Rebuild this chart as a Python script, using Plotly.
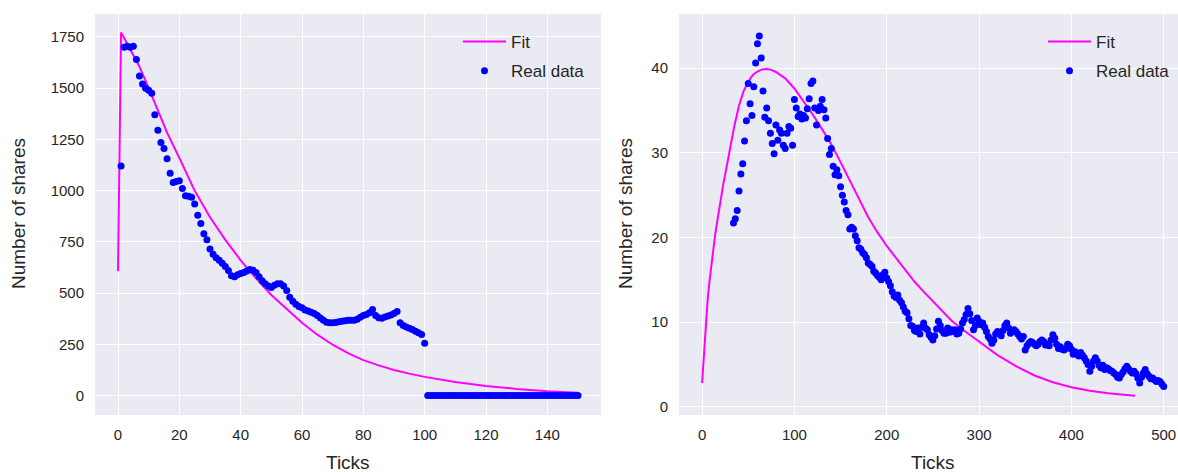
import plotly.graph_objects as go

W, H = 1178, 472

# ---------------- Left panel data ----------------
left_ticks = list(range(1, 151))
left_shares = [
    1120, 1700, 1705, 1700, 1705, 1640, 1560, 1520, 1500, 1490,
    1475, 1370, 1295, 1235, 1205, 1155, 1085, 1040, 1045, 1048,
    1010, 975, 972, 968, 935, 880, 840, 790, 760, 715,
    690, 672, 660, 645, 630, 610, 585, 580, 590, 595,
    600, 608, 615, 612, 600, 580, 560, 545, 535, 527,
    538, 545, 545, 535, 512, 480, 460, 445, 435, 428,
    418, 412, 406, 400, 390, 378, 368, 358, 355, 355,
    356, 360, 362, 365, 367, 367, 367, 372, 382, 390,
    396, 404, 420, 390, 380, 377, 383, 388, 393, 400,
    410, 355, 342, 335, 328, 322, 314, 306, 298, 255,
    0, 0, 0, 0, 0, 0, 0, 0, 0, 0,
    0, 0, 0, 0, 0, 0, 0, 0, 0, 0,
    0, 0, 0, 0, 0, 0, 0, 0, 0, 0,
    0, 0, 0, 0, 0, 0, 0, 0, 0, 0,
    0, 0, 0, 0, 0, 0, 0, 0, 0, 0,
]
left_fit_ticks = [0, 1, 2, 3, 5, 7, 10, 13, 16, 20, 25, 30, 35, 40, 45, 50, 55,
                  60, 65, 70, 75, 80, 85, 90, 95, 100, 110, 120, 130, 140, 150]
left_fit = [607, 1772, 1745, 1718, 1662, 1605, 1500, 1388, 1283, 1160, 1000, 870,
            760, 660, 572, 491, 422, 355, 297, 248, 207, 173, 147, 125, 107, 91,
            66, 47, 32, 21, 14]

# ---------------- Right panel data ----------------
right_ticks = list(range(34, 501, 2))
right_shares = [
    21.7, 22.2, 23.2, 25.5, 27.5, 28.7, 31.4, 33.8, 38.2, 35.8,
    34.4, 37.8, 40.6, 42.9, 43.8, 41.2, 37.3, 34.2, 35.3, 33.8,
    32.3, 31.1, 29.9, 33.3, 31.5, 32.7, 32.3, 30.9, 30.5, 32.3,
    33.1, 32.9, 30.9, 36.3, 35.3, 34.3, 34.6, 34.0, 34.4, 34.1,
    35.2, 36.4, 38.2, 38.5, 35.3, 33.3, 35.0, 35.5, 36.3, 35.1,
    34.1, 31.7, 29.8, 30.5, 28.4, 27.4, 28.0, 27.3, 26.0, 25.0,
    24.2, 23.2, 22.7, 21.0, 21.2, 21.0, 20.2, 19.6, 18.8, 18.6,
    18.2, 18.0, 17.6, 17.0, 16.8, 16.6, 16.0, 15.8, 15.5, 15.3,
    15.0, 15.6, 15.9, 15.2, 14.8, 14.3, 13.6, 13.1, 12.9, 13.2,
    12.6, 12.3, 11.8, 11.3, 11.1, 10.4, 9.6, 9.5, 9.0, 8.9,
    9.3, 8.6, 9.4, 9.9, 9.3, 9.1, 8.5, 8.2, 7.9, 8.4,
    9.2, 10.1, 9.6, 9.0, 8.7, 8.7, 9.3, 8.8, 9.1, 8.9,
    9.1, 8.6, 8.7, 9.2, 9.9, 10.3, 10.9, 11.6, 11.0, 10.2,
    9.1, 9.6, 10.5, 10.1, 9.7, 9.9, 9.4, 8.9, 8.3, 8.0,
    7.5, 7.9, 8.6, 8.9, 8.6, 8.4, 9.0, 9.6, 9.9, 9.3,
    8.7, 8.9, 9.1, 8.9, 8.6, 8.3, 8.0, 8.3, 6.7, 7.2,
    7.5, 7.7, 7.6, 7.4, 7.2, 7.4, 7.7, 7.9, 7.7, 7.3,
    7.4, 7.2, 7.9, 8.5, 8.1, 7.4, 6.9, 7.1, 6.8, 6.7,
    6.9, 7.4, 7.2, 6.8, 6.2, 6.5, 6.2, 6.0, 6.4, 6.1,
    5.8, 5.4, 5.0, 4.2, 4.8, 5.4, 5.8, 5.4, 4.9, 4.6,
    4.9, 4.4, 4.6, 4.5, 4.3, 4.2, 4.0, 3.8, 3.5, 3.4,
    3.8, 4.1, 4.5, 4.8, 4.5, 4.2, 4.0, 4.2, 3.9, 3.4,
    2.8, 3.5, 4.0, 4.4, 3.9, 3.6, 3.3, 3.4, 3.2, 3.0,
    3.1, 3.0, 2.7, 2.4,
]
right_fit_ticks = [0, 2, 4, 6, 8, 10, 12, 14, 17, 20, 23, 26, 30, 35, 40, 45, 50,
                   55, 60, 65, 70, 75, 80, 90, 100, 110, 120, 130, 140, 150, 160,
                   170, 180, 190, 200, 210, 220, 230, 240, 250, 260, 270, 280, 290,
                   300, 310, 320, 340, 360, 380, 400, 420, 440, 460, 469]
right_fit = [2.8, 6.5, 9.9, 12.6, 14.8, 16.8, 18.6, 20.2, 22.3, 24.4, 26.3, 28.0,
             30.5, 33.2, 35.6, 37.3, 38.4, 39.2, 39.6, 39.85, 39.9, 39.8, 39.55,
             38.8, 37.6, 36.1, 34.5, 32.8, 31.0, 28.9, 26.7, 24.5, 22.4, 20.6,
             19.0, 17.6, 16.2, 14.8, 13.6, 12.5, 11.3, 10.2, 9.3, 8.5, 7.6, 6.8,
             6.1, 4.8, 3.7, 2.9, 2.3, 1.9, 1.6, 1.4, 1.3]

assert len(left_ticks) == len(left_shares)
assert len(right_ticks) == len(right_shares)
assert len(left_fit_ticks) == len(left_fit)
assert len(right_fit_ticks) == len(right_fit)

left_xtick_vals = [0, 20, 40, 60, 80, 100, 120, 140]
left_ytick_vals = [0, 250, 500, 750, 1000, 1250, 1500, 1750]
right_xtick_vals = [0, 100, 200, 300, 400, 500]
right_ytick_vals = [0, 10, 20, 30, 40]

FONT = "Liberation Sans, Arial, sans-serif"
TXT = "#262626"
FIT_C = "#ff00ff"
DOT_C = "#0000ff"
TICK_SIZE = 15
LABEL_SIZE = 19
LEGEND_SIZE = 17

fig = go.Figure()

fig.add_trace(go.Scatter(x=left_fit_ticks, y=left_fit, mode="lines", name="Fit",
                         line=dict(color=FIT_C, width=2), xaxis="x", yaxis="y",
                         legend="legend", legendgroup="a"))
fig.add_trace(go.Scatter(x=left_ticks, y=left_shares, mode="markers", name="Real data",
                         marker=dict(color=DOT_C, size=7, line=dict(width=0)),
                         xaxis="x", yaxis="y", legend="legend", legendgroup="b"))
fig.add_trace(go.Scatter(x=right_fit_ticks, y=right_fit, mode="lines", name="Fit",
                         line=dict(color=FIT_C, width=2), xaxis="x2", yaxis="y2",
                         legend="legend2", legendgroup="c"))
fig.add_trace(go.Scatter(x=right_ticks, y=right_shares, mode="markers", name="Real data",
                         marker=dict(color=DOT_C, size=7, line=dict(width=0)),
                         xaxis="x2", yaxis="y2", legend="legend2", legendgroup="d"))

def px_x(p):
    return p / W

def px_y(p):
    return 1 - p / H

ydom = [px_y(415), px_y(14)]

axis_common = dict(showgrid=True, gridcolor="white", gridwidth=1, zeroline=False,
                   showline=False, ticks="outside", tickcolor="rgba(0,0,0,0)",
                   tickfont=dict(family=FONT, size=TICK_SIZE, color=TXT))

fig.update_layout(
    width=W, height=H, autosize=False,
    margin=dict(l=0, r=0, t=0, b=0),
    paper_bgcolor="white", plot_bgcolor="#EAEAF2",
    font=dict(family=FONT, size=TICK_SIZE, color=TXT),
    xaxis=dict(domain=[px_x(95), px_x(601)], range=[-7.5, 157.5],
               tickvals=left_xtick_vals, ticklen=6, anchor="y", **axis_common),
    yaxis=dict(domain=ydom, range=[-95, 1862], tickvals=left_ytick_vals,
               ticklen=7, anchor="x", **axis_common),
    xaxis2=dict(domain=[px_x(679), 1.0], range=[-25, 515.5],
                tickvals=right_xtick_vals, ticklen=6, anchor="y2", **axis_common),
    yaxis2=dict(domain=ydom, range=[-0.97, 46.4], tickvals=right_ytick_vals,
                ticklen=7, anchor="x2", **axis_common),
    legend=dict(x=px_x(458), y=px_y(24), xanchor="left", yanchor="top",
                bgcolor="rgba(0,0,0,0)", borderwidth=0, itemwidth=43,
                traceorder="grouped", tracegroupgap=4,
                font=dict(family=FONT, size=LEGEND_SIZE, color=TXT)),
    legend2=dict(x=px_x(1043), y=px_y(24), xanchor="left", yanchor="top",
                 bgcolor="rgba(0,0,0,0)", borderwidth=0, itemwidth=43,
                 traceorder="grouped", tracegroupgap=4,
                 font=dict(family=FONT, size=LEGEND_SIZE, color=TXT)),
    showlegend=True,
)

annots = [
    dict(text="Ticks", x=px_x(348), y=px_y(462)),
    dict(text="Ticks", x=px_x(933), y=px_y(462)),
    dict(text="Number of shares", x=px_x(18), y=px_y(214), textangle=-90),
    dict(text="Number of shares", x=px_x(625), y=px_y(214), textangle=-90),
]
for a in annots:
    fig.add_annotation(xref="paper", yref="paper", showarrow=False,
                       xanchor="center", yanchor="middle",
                       font=dict(family=FONT, size=LABEL_SIZE, color=TXT), **a)

fig.write_html("out.html")
